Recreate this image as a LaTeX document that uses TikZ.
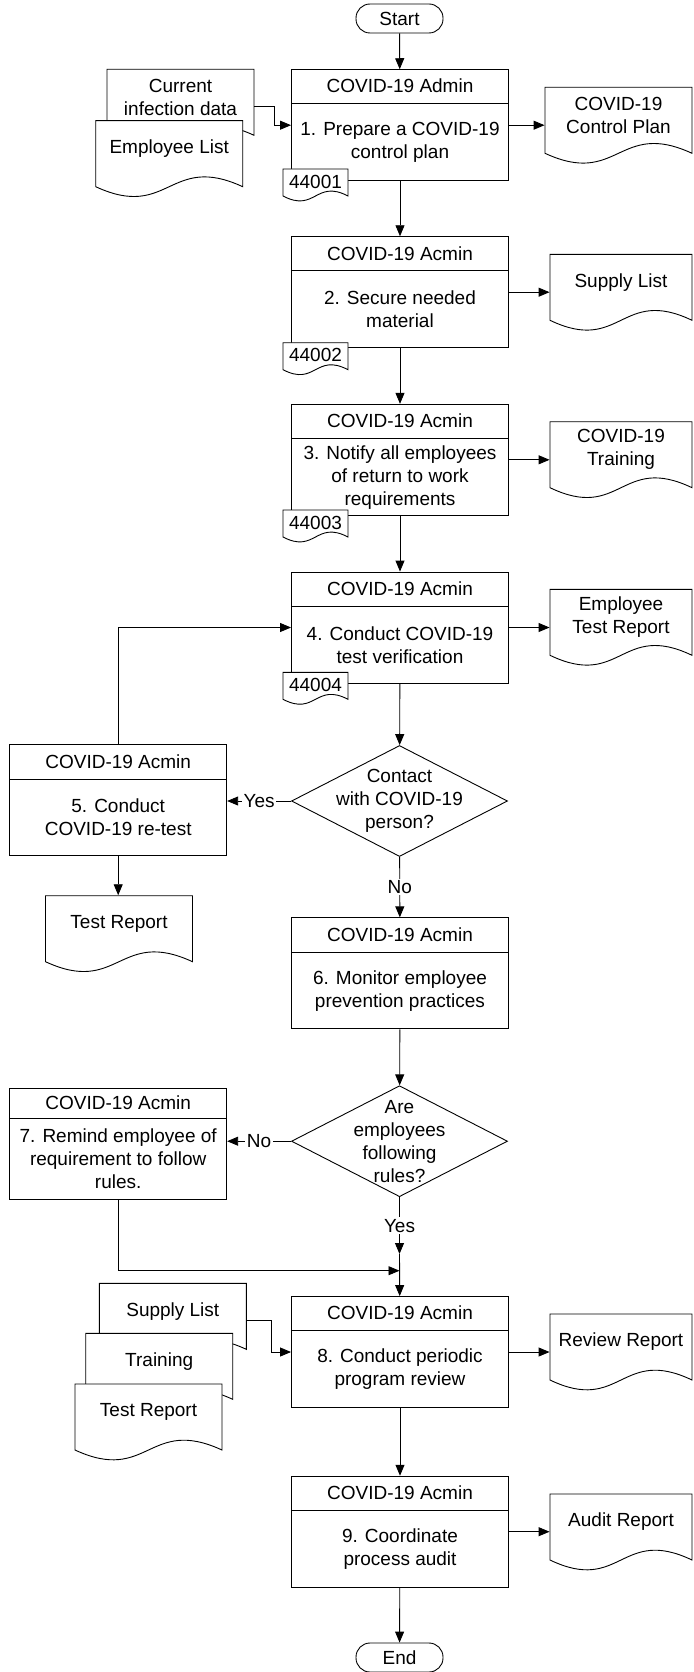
\documentclass[tikz,border=0pt]{standalone}
\usepackage{fontspec}
\setmainfont{Liberation Sans}
\usetikzlibrary{positioning}
\usetikzlibrary{calc}
\usetikzlibrary{arrows.meta}
\usetikzlibrary{shapes.geometric}

\begin{document}
\begin{tikzpicture}[x=1pt, y=-1pt, >={Triangle[length=11pt,width=9pt]},
    line width=0.9pt,
    font=\fontsize{19}{23}\selectfont,
    procbox/.style={draw, fill=white, minimum width=217pt, minimum height=111pt, inner sep=0pt},
    boxtxt/.style={align=center, inner sep=0pt},
    decision/.style={draw, fill=white, diamond, minimum width=216pt, minimum height=111pt, inner sep=0pt},
    term/.style={draw, fill=white, rounded corners=14pt, minimum width=87pt, minimum height=29pt, inner sep=0pt},
    doctxt/.style={align=center, minimum width=#1, minimum height=56pt, inner sep=0pt},
    doctxt/.default=147pt,
    tagtxt/.style={minimum width=65pt, inner sep=0pt},
    lbl/.style={fill=white, inner sep=1.5pt},
    pics/docshape/.style args={#1/#2/#3}{code={
        \filldraw[fill=white] (0,0) -- (#1,0) -- (#1,#2)
            .. controls ({#1/2},{#2-#3}) and ({#1/2},{#2+#3}) .. (0,#2) -- cycle;
    }},
]
    \useasboundingbox (0,0) rectangle (693,1672);

    % Start / End
    \node[term] (start) at (399.5,18.5) {Start};
    \node[term] (end) at (399.5,1657.5) {End};

    % Process boxes
    \foreach \n/\x/\y/\hh/\hd/\bd in {
        1/400/125.2/33/{COVID-19 Admin}/{1. Prepare a COVID-19\\control plan},
        2/400/292.2/33.3/{COVID-19 Acmin}/{2. Secure needed\\material},
        3/400/459.8/33.7/{COVID-19 Acmin}/{3. Notify all employees\\of return to work\\requirements},
        4/400/627.5/34/{COVID-19 Acmin}/{4. Conduct COVID-19\\test verification},
        5/118.2/800.2/34/{COVID-19 Acmin}/{5. Conduct\\COVID-19 re-test},
        6/400/973.3/33.7/{COVID-19 Acmin}/{6. Monitor employee\\prevention practices},
        7/118.2/1143.8/29.4/{COVID-19 Acmin}/{7. Remind employee of\\requirement to follow\\rules.},
        8/400/1352/33.3/{COVID-19 Acmin}/{8. Conduct periodic\\program review},
        9/400/1531.7/33.3/{COVID-19 Acmin}/{9. Coordinate\\process audit}} {
        \node[procbox] (p\n) at (\x,\y) {};
        \node[boxtxt, minimum height=\hh pt, below=0pt of p\n.north] (h\n) {\hd};
        \draw (p\n.west |- h\n.south) -- (p\n.east |- h\n.south);
        \node[boxtxt] (b\n) at ($(h\n.south)!0.5!(p\n.south)$) {\bd};
    }

    % Form numbers
    \foreach \n/\ty in {1/169, 2/342.7, 3/510, 4/672.3} {
        \pic at (283,\ty) {docshape=65/27/17};
        \node[tagtxt] (t\n) at (315.5,{\ty+12.5}) {4400\n};
    }

    % Decisions
    \node[decision] (d1) at (399.5,801) {};
    \node[boxtxt] (q1) at (d1) {Contact\\with COVID-19\\person?};
    \node[decision] (d2) at (399.5,1141.2) {};
    \node[boxtxt] (q2) at (d2) {Are\\employees\\following\\rules?};

    % Documents
    \foreach \nm/\lx/\ty/\w/\txt in {
        iCD/107/69.3/147/{Current\\infection data},
        iEL/95.7/120.7/147/{Employee List},
        oCP/545/87.3/147/{COVID-19\\Control Plan},
        oSL/550/254.3/142/{Supply List},
        oTRN/550/421.7/142/{COVID-19\\Training},
        oETR/550/589.3/142/{Employee\\Test Report},
        dTR5/45.5/895.7/147/{Test Report},
        iSL/99.3/1283.3/147/{Supply List},
        iTRN/85.7/1333.3/147/{Training},
        iTRP/75/1384/147/{Test Report},
        oRR/550/1314/142/{Review Report},
        oAR/550/1494/142/{Audit Report}} {
        \pic at (\lx,\ty) {docshape=\w/66/34};
        \node[doctxt=\w pt] (\nm) at ({\lx+\w/2},{\ty+28}) {\txt};
    }

    % Connections
    \coordinate (yesend) at (399.5,1254);
    \coordinate (merge) at (399.5,1270.7);
    \draw[->] (start) -- (p1);
    \draw[->] ([yshift=-9.5pt]iCD.east) -- ++(20,0) |- (p1.west);
    \draw[->] (p1.east) -- (p1.east -| oCP.west);
    \draw[->] (p1) -- (p2);
    \draw[->] (p2.east) -- (p2.east -| oSL.west);
    \draw[->] (p2) -- (p3);
    \draw[->] (p3.east) -- (p3.east -| oTRN.west);
    \draw[->] (p3) -- (p4);
    \draw[->] (p4.east) -- (p4.east -| oETR.west);
    \draw[->] (p4) -- (d1);
    \draw[->] (d1.west) -- node[lbl] (yes1) {Yes} (d1.west -| p5.east);
    \draw[->] (p5.north) |- (p4.west);
    \draw[->] (p5.south) -- (p5.south |- dTR5.north);
    \draw[->] (d1) -- node[lbl] (no1) {No} (p6);
    \draw[->] (p6) -- (d2);
    \draw[->] (d2.west) -- node[lbl] (no2) {No} (d2.west -| p7.east);
    \draw[->] (d2) -- node[lbl] (yes2) {Yes} (yesend);
    \draw[->] (p7.south) |- (merge);
    \draw[->] (yesend) -- (p8);
    \draw[->] ([yshift=-9.5pt]iSL.east) -- ++(24.7,0) |- (p8.west);
    \draw[->] (p8.east) -- (p8.east -| oRR.west);
    \draw[->] (p8) -- (p9);
    \draw[->] (p9.east) -- (p9.east -| oAR.west);
    \draw[->] (p9) -- (end);
\end{tikzpicture}
\end{document}
